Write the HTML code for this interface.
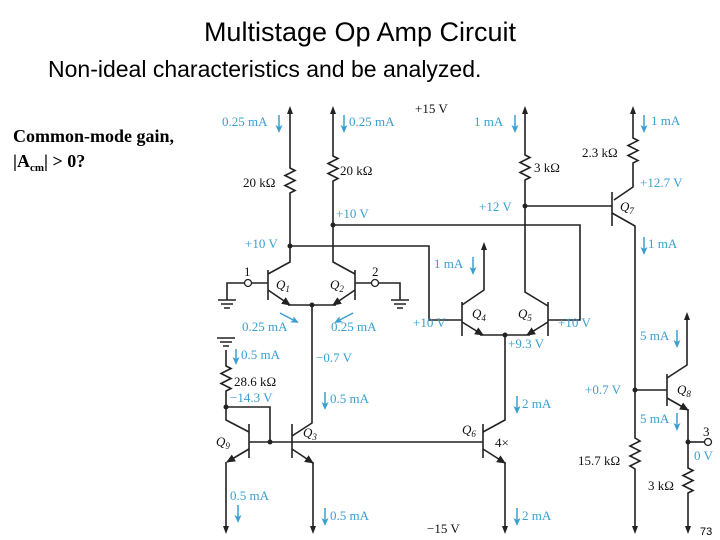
<!DOCTYPE html>
<html><head><style>
body{margin:0;background:#fff;width:720px;height:540px;overflow:hidden}
svg{display:block}
.t{font-family:"Liberation Serif",serif;font-size:13px;fill:#111}
.b{font-family:"Liberation Serif",serif;font-size:13px;fill:#3a9fd0}
.w{stroke:#222;stroke-width:1.6;fill:none}
.bl{stroke:#3a9fd0;stroke-width:1.5;fill:none}
</style></head><body>
<svg width="720" height="540" viewBox="0 0 720 540">
<defs>
<marker id="ah" markerWidth="8" markerHeight="8" refX="4" refY="4" orient="auto-start-reverse" markerUnits="userSpaceOnUse"><path d="M0,1 L8,4 L0,7 Z" fill="#222"/></marker>
<marker id="bh" markerWidth="8" markerHeight="8" refX="6" refY="4" orient="auto" markerUnits="userSpaceOnUse"><path d="M0,0.5 L8,4 L0,7.5 L2,4 Z" fill="#3a9fd0"/></marker>
<marker id="eh" markerWidth="10" markerHeight="10" refX="8" refY="5" orient="auto" markerUnits="userSpaceOnUse"><path d="M0,1 L9,5 L0,9 Z" fill="#222"/></marker>
</defs>
<text x="360" y="41" text-anchor="middle" font-family="Liberation Sans,sans-serif" font-size="27">Multistage Op Amp Circuit</text>
<text x="48" y="77" font-family="Liberation Sans,sans-serif" font-size="23">Non-ideal characteristics and be analyzed.</text>
<text x="13" y="142" font-family="Liberation Serif,serif" font-size="18" font-weight="bold">Common-mode gain,</text>
<text x="13" y="167" font-family="Liberation Serif,serif" font-size="18" font-weight="bold">|A<tspan font-size="11" dy="4">cm</tspan><tspan dy="-4">| &gt; 0?</tspan></text>
<text x="700" y="535" font-family="Liberation Sans,sans-serif" font-size="11">73</text>

<g class="w">
<path d="M290,110 V168 l5,2.5 l-10,5 l10,5 l-10,5 l10,5 l-5,2.5 V262 L268,274" marker-start="url(#ah)"/>
<path d="M268,270 V300"/>
<path d="M268,290 L290,305" marker-end="url(#eh)"/>
<path d="M333,110 V156 l5,2.5 l-10,5 l10,5 l-10,5 l10,5 l-5,2.5 V262 L355,274" marker-start="url(#ah)"/>
<path d="M355,270 V300"/>
<path d="M355,290 L333,305" marker-end="url(#eh)"/>
<path d="M288,305 H336"/>
<path d="M268,283 H252 M244,283 H227 V300"/>
<path d="M218,300 H236 M221,304 H233 M224,308 H230"/>
<path d="M355,283 H371 M379,283 H400 V300"/>
<path d="M391,300 H409 M394,304 H406 M397,308 H403"/>
<path d="M312,305 V423 L292,436"/>
<path d="M292,424 V458"/>
<path d="M292,449 L313,463" marker-end="url(#eh)"/>
<path d="M313,462 V530" marker-end="url(#ah)"/>
<path d="M290,246 H429 V320 H462"/>
<path d="M333,225 H580 V320 H548"/>
<path d="M462,302 V336"/>
<path d="M484,246 V290 L462,305" marker-start="url(#ah)"/>
<path d="M462,322 L483,335" marker-end="url(#eh)"/>
<path d="M548,302 V336"/>
<path d="M525,110 V155 l5,2.5 l-10,5 l10,5 l-10,5 l10,5 l-5,2.5 V292 L548,306" marker-start="url(#ah)"/>
<path d="M548,322 L527,335" marker-end="url(#eh)"/>
<path d="M480,335 H530"/>
<path d="M505,335 V420 L483,432"/>
<path d="M483,424 V458"/>
<path d="M483,449 L505,463" marker-end="url(#eh)"/>
<path d="M505,462 V530" marker-end="url(#ah)"/>
<path d="M525,206 H612"/>
<path d="M612,192 V226"/>
<path d="M633,110 V138 l5,2.5 l-10,5 l10,5 l-10,5 l10,5 l-5,2.5 V187 L614,200" marker-start="url(#ah)"/>
<path d="M612,213 L635,226 V438 l5,3 l-10,5 l10,5 l-10,5 l10,5 l-10,5 l5,3 V530" marker-end="url(#ah)"/>
<path d="M635,390 H667"/>
<path d="M667,374 V406"/>
<path d="M687,316 V365 L667,378" marker-start="url(#ah)"/>
<path d="M667,398 L688,410" marker-end="url(#eh)"/>
<path d="M688,409 V468 l5,2.5 l-10,5 l10,5 l-10,5 l10,5 l-5,2.5 V530" marker-end="url(#ah)"/>
<path d="M688,442 H704"/>
<path d="M217,338 H235 M220,342 H232 M223,346 H229"/>
<path d="M226,350 V366 l5,2.5 l-10,5 l10,5 l-10,5 l10,5 l-5,2.5 V420 L249,432"/>
<path d="M249,424 V458"/>
<path d="M249,449 L227,462" marker-end="url(#eh)"/>
<path d="M226,462 V530" marker-end="url(#ah)"/>
<path d="M226,407 H270 V442"/>
<path d="M249,442 H483"/>
</g>
<g fill="#222">
<circle cx="290" cy="246" r="2.5"/><circle cx="333" cy="225" r="2.5"/><circle cx="312" cy="305" r="2.5"/>
<circle cx="505" cy="335" r="2.5"/><circle cx="525" cy="206" r="2.5"/><circle cx="635" cy="390" r="2.5"/>
<circle cx="688" cy="442" r="2.5"/><circle cx="226" cy="407" r="2.5"/><circle cx="270" cy="442" r="2.5"/>
</g>
<g fill="#fff" stroke="#222" stroke-width="1.3">
<circle cx="248" cy="283" r="3.5"/><circle cx="375" cy="283" r="3.5"/><circle cx="708" cy="442" r="3.5"/>
</g>
<g class="t">
<text x="243" y="187">20 kΩ</text><text x="340" y="175">20 kΩ</text>
<text x="415" y="113">+15 V</text><text x="534" y="172">3 kΩ</text>
<text x="582" y="157">2.3 kΩ</text><text x="244" y="276">1</text><text x="372" y="276">2</text>
<text x="276" y="289" font-style="italic">Q<tspan font-size="9" dy="3">1</tspan></text>
<text x="330" y="289" font-style="italic">Q<tspan font-size="9" dy="3">2</tspan></text>
<text x="472" y="318" font-style="italic">Q<tspan font-size="9" dy="3">4</tspan></text>
<text x="518" y="318" font-style="italic">Q<tspan font-size="9" dy="3">5</tspan></text>
<text x="620" y="211" font-style="italic">Q<tspan font-size="9" dy="3">7</tspan></text>
<text x="677" y="394" font-style="italic">Q<tspan font-size="9" dy="3">8</tspan></text>
<text x="216" y="446" font-style="italic">Q<tspan font-size="9" dy="3">9</tspan></text>
<text x="303" y="437" font-style="italic">Q<tspan font-size="9" dy="3">3</tspan></text>
<text x="462" y="434" font-style="italic">Q<tspan font-size="9" dy="3">6</tspan></text>
<text x="495" y="447">4×</text>
<text x="234" y="386">28.6 kΩ</text>
<text x="578" y="465">15.7 kΩ</text><text x="648" y="490">3 kΩ</text>
<text x="703" y="436">3</text><text x="427" y="533">−15 V</text>
</g>
<g class="b">
<text x="222" y="126">0.25 mA</text><text x="349" y="126">0.25 mA</text>
<text x="474" y="126">1 mA</text><text x="651" y="125">1 mA</text>
<text x="336" y="218">+10 V</text><text x="245" y="248">+10 V</text>
<text x="479" y="211">+12 V</text><text x="640" y="187">+12.7 V</text>
<text x="648" y="248">1 mA</text><text x="434" y="268">1 mA</text>
<text x="242" y="331">0.25 mA</text><text x="331" y="331">0.25 mA</text>
<text x="413" y="327">+10 V</text><text x="558" y="327">+10 V</text>
<text x="508" y="348">+9.3 V</text>
<text x="241" y="359">0.5 mA</text><text x="316" y="362">−0.7 V</text>
<text x="230" y="402">−14.3 V</text><text x="330" y="403">0.5 mA</text>
<text x="522" y="408">2 mA</text><text x="585" y="394">+0.7 V</text>
<text x="640" y="340">5 mA</text><text x="640" y="423">5 mA</text>
<text x="694" y="460">0 V</text>
<text x="230" y="500">0.5 mA</text><text x="330" y="520">0.5 mA</text><text x="522" y="520">2 mA</text>
</g>
<g class="bl">
<path d="M279,115 V131" marker-end="url(#bh)"/><path d="M344,115 V131" marker-end="url(#bh)"/>
<path d="M515,115 V131" marker-end="url(#bh)"/><path d="M644,115 V131" marker-end="url(#bh)"/>
<path d="M644,237 V253" marker-end="url(#bh)"/><path d="M473,257 V273" marker-end="url(#bh)"/>
<path d="M280,313 L297,322" marker-end="url(#bh)"/><path d="M353,313 L336,322" marker-end="url(#bh)"/>
<path d="M236,349 V363" marker-end="url(#bh)"/><path d="M325,392 V408" marker-end="url(#bh)"/>
<path d="M517,396 V412" marker-end="url(#bh)"/>
<path d="M677,330 V346" marker-end="url(#bh)"/><path d="M677,413 V429" marker-end="url(#bh)"/>
<path d="M238,505 V521" marker-end="url(#bh)"/><path d="M325,508 V524" marker-end="url(#bh)"/>
<path d="M517,508 V524" marker-end="url(#bh)"/>
</g>
</svg>
</body></html>
